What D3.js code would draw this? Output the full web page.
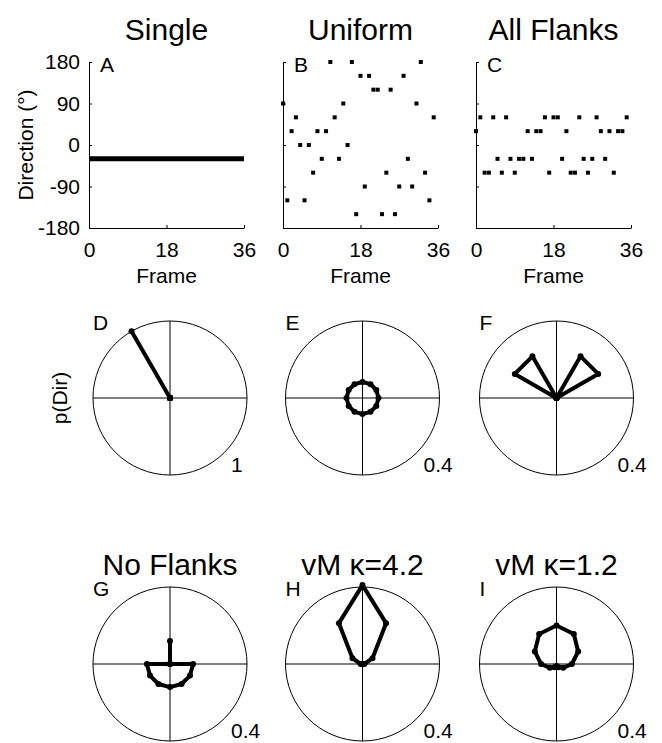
<!DOCTYPE html>
<html>
<head>
<meta charset="utf-8">
<script src="https://cdn.jsdelivr.net/npm/d3@7"></script>
<style>
  body { margin: 0; background: #fff; }
  text { font-family: "Liberation Sans", Arial, sans-serif; fill: #000; }
  .axis path, .axis line { stroke: #000; stroke-width: 1; }
</style>
</head>
<body>
<svg id="fig" width="662" height="743"></svg>
<script>
// ---- data ----
var topTitles = ["Single", "Uniform", "All Flanks"];
var topLetters = ["A", "B", "C"];
var yTicks = [180, 90, 0, -90, -180];
var xTicks = [0, 18, 36];

// panel A: one direction for the whole movie
var singleFrames = [0, 36];
var singleDir = [-30, -30];
// panel B: direction of each frame 0..35
var uniformDir = [90, -120, 30, 60, 0, -120, 0, -60, 30, -30, 30, 180,
  60, -30, 90, 0, 180, -150, 150, -90, 150, 120, 120, -150,
  -60, 120, -150, -90, 150, -30, -90, 90, 180, -60, -120, 60];
// panel C
var flankDir = [30, 60, -60, -60, 60, -30, -60, 60, -30, -60, -30, -30,
  30, -30, 30, 30, 60, -60, 60, 60, -30, 30, -60, -60,
  60, -30, -60, -30, 60, 30, -30, 30, -60, 30, 30, 60];

// polar panels: probability of each direction
var polarDirs = [0, 30, 60, 90, 120, 150, 180, -150, -120, -90, -60, -30];
var pSingle = [0, 0, 0, 0, 0, 0, 0, 0, 0, 0, 0, 1];
var pUniform = [0.083, 0.083, 0.083, 0.083, 0.083, 0.083, 0.083, 0.083, 0.083, 0.083, 0.083, 0.083];
var pAllFlanks = [0, 0.25, 0.25, 0, 0, 0, 0, 0, 0, 0, 0.25, 0.25];
var pNoFlanks = [0.12, 0, 0, 0.12, 0.12, 0.12, 0.12, 0.12, 0.12, 0.12, 0, 0];
var pVm42 = [0.41, 0.245, 0.06, 0.01, 0, 0, 0, 0, 0, 0.01, 0.06, 0.245];
var pVm12 = [0.20, 0.18, 0.13, 0.08, 0.04, 0.02, 0.01, 0.02, 0.04, 0.08, 0.13, 0.18];

var polarPanels = [
  { letter: "D", p: pSingle, max: 1, maxLabel: "1" },
  { letter: "E", p: pUniform, max: 0.4, maxLabel: "0.4" },
  { letter: "F", p: pAllFlanks, max: 0.4, maxLabel: "0.4" },
  { letter: "G", p: pNoFlanks, max: 0.4, maxLabel: "0.4", title: "No Flanks" },
  { letter: "H", p: pVm42, max: 0.4, maxLabel: "0.4", title: "vM \u03ba=4.2" },
  { letter: "I", p: pVm12, max: 0.4, maxLabel: "0.4", title: "vM \u03ba=1.2" }
];

// ---- layout ----
var svg = d3.select("#fig");
var colX = [89, 283, 476], pw = 155;
var top0 = 62, bot0 = 228;
var polarCx = [170, 362.5, 556.5], polarCy = [398, 664], R = 77;
var fs = 21, titleFs = 30;

var y = d3.scaleLinear().domain([-180, 180]).range([bot0, top0]);

function timePanel(i) {
  var x = d3.scaleLinear().domain([0, 36]).range([colX[i], colX[i] + pw]);
  var g = svg.append("g");

  g.append("text").attr("x", colX[i] + pw / 2).attr("y", 40)
    .attr("text-anchor", "middle").attr("font-size", titleFs).text(topTitles[i]);

  g.append("g").attr("class", "axis")
    .attr("transform", "translate(" + colX[i] + ",0)")
    .call(d3.axisLeft(y).tickValues(yTicks).tickSize(-3).tickSizeOuter(0).tickPadding(9)
      .tickFormat(function(d) { return i == 0 ? String(d) : ""; }))
    .selectAll("text").attr("font-size", fs);

  g.append("g").attr("class", "axis")
    .attr("transform", "translate(0," + bot0 + ")")
    .call(d3.axisBottom(x).tickValues(xTicks).tickSize(-3).tickSizeOuter(0).tickPadding(14)
      .tickFormat(function(d) { return String(d); }))
    .selectAll("text").attr("font-size", fs);

  g.selectAll(".axis").attr("font-family", null);

  g.append("text").attr("x", colX[i] + pw / 2).attr("y", 283)
    .attr("text-anchor", "middle").attr("font-size", fs).text("Frame");

  g.append("text").attr("x", colX[i] + 11).attr("y", 72)
    .attr("font-size", fs).text(topLetters[i]);

  return { g: g, x: x };
}

var pA = timePanel(0);
pA.g.append("path")
  .attr("d", d3.line().x(function(d, j) { return pA.x(singleFrames[j]); })
    .y(function(d) { return y(d); })(singleDir))
  .attr("fill", "none").attr("stroke", "#000").attr("stroke-width", 5);

svg.append("text").attr("transform", "translate(25," + (top0 + bot0) / 2 + ") rotate(-90)")
  .attr("text-anchor", "middle").attr("dominant-baseline", "central")
  .attr("font-size", fs).text("Direction (\u00b0)");

[[1, uniformDir], [2, flankDir]].forEach(function(pair) {
  var pn = timePanel(pair[0]);
  pn.g.selectAll("rect.pt").data(pair[1]).enter().append("rect")
    .attr("class", "pt")
    .attr("x", function(d, j) { return pn.x(j) - 2; })
    .attr("y", function(d) { return y(d) - 2; })
    .attr("width", 4).attr("height", 4).attr("fill", "#000");
});

// ---- polar plots ----
polarPanels.forEach(function(pp, k) {
  var cx = polarCx[k % 3], cy = polarCy[Math.floor(k / 3)];
  var r = d3.scaleLinear().domain([0, pp.max]).range([0, R]);
  var g = svg.append("g").attr("transform", "translate(" + cx + "," + cy + ")");

  g.append("circle").attr("r", R).attr("fill", "none").attr("stroke", "#000").attr("stroke-width", 1);
  g.append("line").attr("x1", -R).attr("x2", R).attr("stroke", "#000").attr("stroke-width", 1);
  g.append("line").attr("y1", -R).attr("y2", R).attr("stroke", "#000").attr("stroke-width", 1);

  var pts = polarDirs.map(function(a, j) { return [a * Math.PI / 180, r(pp.p[j])]; });

  g.append("path")
    .attr("d", d3.lineRadial().angle(function(d) { return d[0]; })
      .radius(function(d) { return d[1]; }).curve(d3.curveLinearClosed)(pts))
    .attr("fill", "none").attr("stroke", "#000").attr("stroke-width", 4)
    .attr("stroke-linejoin", "round");

  g.selectAll("circle.mk").data(pts).enter().append("circle")
    .attr("class", "mk")
    .attr("cx", function(d) { return d3.pointRadial(d[0], d[1])[0]; })
    .attr("cy", function(d) { return d3.pointRadial(d[0], d[1])[1]; })
    .attr("r", 3).attr("fill", "#000");

  g.append("text").attr("x", -R).attr("y", -68).attr("font-size", fs).text(pp.letter);
  g.append("text").attr("x", 61).attr("y", 74).attr("font-size", fs).text(pp.maxLabel);

  if (pp.title) {
    g.append("text").attr("x", 0).attr("y", -89).attr("text-anchor", "middle")
      .attr("font-size", titleFs).text(pp.title);
  }
});

svg.append("text").attr("transform", "translate(59," + polarCy[0] + ") rotate(-90)")
  .attr("text-anchor", "middle").attr("dominant-baseline", "central")
  .attr("font-size", fs).text("p(Dir)");
</script>
</body>
</html>
